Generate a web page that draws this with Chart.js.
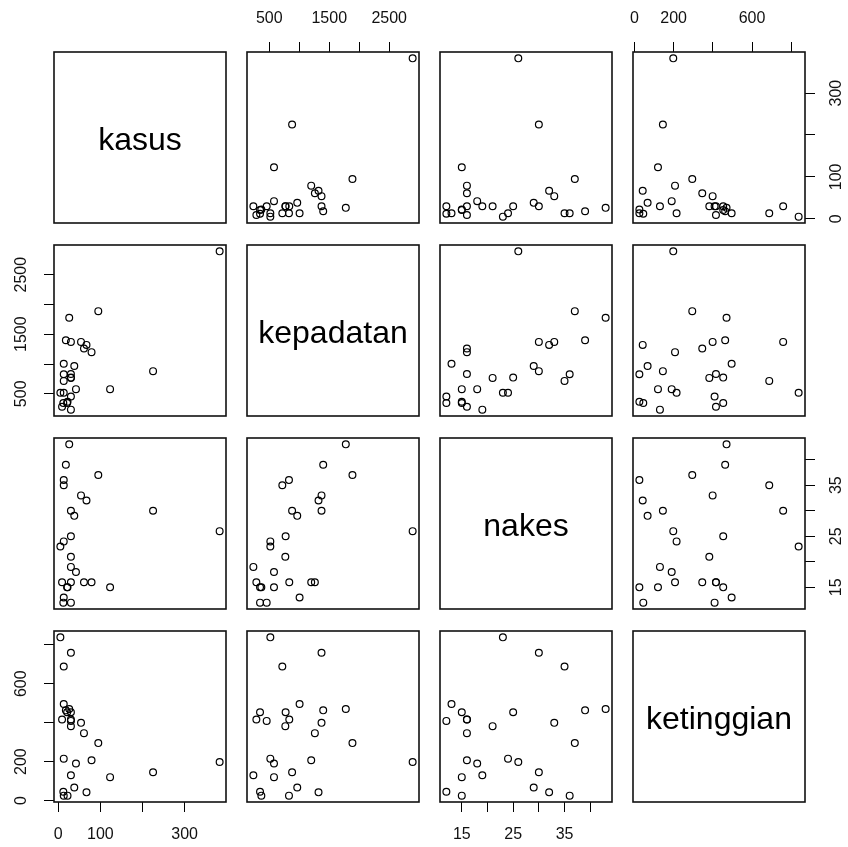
<!DOCTYPE html>
<html><head><meta charset="utf-8">
<script src="https://cdn.jsdelivr.net/npm/chart.js@4/dist/chart.umd.min.js"></script>
<style>
html,body{margin:0;padding:0;background:#fff;overflow:hidden;}
#wrap{position:relative;width:848px;height:847px;background:#fff;overflow:hidden;}
canvas{position:absolute;}
</style></head><body><div id="wrap"></div>
<script>
// ---- data (one entry per region) ----
const varNames   = ['kasus', 'kepadatan', 'nakes', 'ketinggian'];
const kasus      = [5, 30, 13, 13, 21, 30, 18, 26, 9, 30, 30, 54, 30, 61, 95, 13, 79, 383, 42, 225, 30, 123, 38, 12, 67, 22, 13];
const kepadatan  = [517, 1371, 717, 1005, 345, 772, 1399, 1776, 284, 833, 456, 1371, 767, 1260, 1887, 517, 1199, 2891, 578, 880, 234, 578, 966, 345, 1321, 367, 828];
const nakes      = [23, 30, 35, 13, 15, 25, 39, 43, 16, 16, 12, 33, 21, 16, 37, 24, 16, 26, 18, 30, 19, 15, 29, 12, 32, 15, 36];
const ketinggian = [838, 759, 688, 496, 453, 453, 463, 470, 416, 416, 409, 399, 382, 346, 295, 215, 207, 198, 190, 145, 130, 120, 67, 45, 42, 25, 25];

// ---- tick values and tick labels ----
const kasusTicks           = [0, 100, 200, 300];
const kasusTickLabels      = ['0', '100', '', '300'];
const kepadatanTicks       = [500, 1000, 1500, 2000, 2500];
const kepadatanTickLabels  = ['500', '', '1500', '', '2500'];
const nakesTicks           = [15, 20, 25, 30, 35, 40];
const nakesTickLabels      = ['15', '', '25', '', '35', ''];
const ketinggianTicks      = [0, 200, 400, 600, 800];
const ketinggianTickLabels = ['0', '200', '', '600', ''];

const VARS = [
  {name: varNames[0], data: kasus,      ticks: kasusTicks,      labels: kasusTickLabels},
  {name: varNames[1], data: kepadatan,  ticks: kepadatanTicks,  labels: kepadatanTickLabels},
  {name: varNames[2], data: nakes,      ticks: nakesTicks,      labels: nakesTickLabels},
  {name: varNames[3], data: ketinggian, ticks: ketinggianTicks, labels: ketinggianTickLabels}
];

// ---- layout ----
const FONT = '"Liberation Sans", Arial, sans-serif';
const colLeft = [54, 247, 440, 633];
const rowTop  = [52, 245, 438, 631];
const PW = 172, PH = 171, M = 48;
const TICKLEN = 10;

const mctx = document.createElement('canvas').getContext('2d');
mctx.font = '16px ' + FONT;
function widest(labels) { return Math.max(...labels.map(l => mctx.measureText(l).width)); }
function ext(a) { const mn = Math.min(...a), mx = Math.max(...a), d = mx - mn; return [mn - 0.04 * d, mx + 0.04 * d]; }

function axisOpts(v, axis, pos) {
  const [mn, mx] = ext(v.data);
  const o = {
    type: 'linear', min: mn, max: mx, bounds: 'data',
    display: !!pos,
    position: pos || (axis === 'x' ? 'bottom' : 'left'),
    afterBuildTicks: s => { s.ticks = v.ticks.map(t => ({value: t})); },
    grid: {display: true, drawOnChartArea: false, drawTicks: true, tickLength: TICKLEN,
           color: '#000', tickColor: '#000', lineWidth: 1},
    border: {display: false},
    ticks: {
      autoSkip: false, color: '#111', font: {family: FONT, size: 16},
      callback: (val, i) => { const k = v.ticks.indexOf(val); return k >= 0 ? v.labels[k] : ''; }
    }
  };
  if (pos) {
    if (axis === 'x') {
      o.ticks.maxRotation = 0; o.ticks.minRotation = 0; o.ticks.padding = 13.4;
      o.afterFit = s => { s.height = M; };
    } else {
      o.ticks.minRotation = 90; o.ticks.maxRotation = 90; o.ticks.crossAlign = 'center';
      o.ticks.padding = 22 - widest(v.labels) / 2;
      o.afterFit = s => { s.width = M; };
    }
  }
  return o;
}

const framePlugin = {
  id: 'frame',
  afterDraw(chart, args, opts) {
    const {ctx, chartArea: a} = chart;
    ctx.save();
    ctx.strokeStyle = '#111';
    ctx.lineWidth = 1.6;
    ctx.strokeRect(a.left, a.top, a.right - a.left, a.bottom - a.top);
    if (opts.label) {
      ctx.fillStyle = '#000';
      ctx.font = '32px ' + FONT;
      ctx.textAlign = 'center';
      ctx.textBaseline = 'alphabetic';
      ctx.fillText(opts.label, (a.left + a.right) / 2, (a.top + a.bottom) / 2 + 12.5);
    }
    ctx.restore();
  }
};

const wrap = document.getElementById('wrap');
for (let r = 0; r < 4; r++) {
  for (let c = 0; c < 4; c++) {
    const cv = document.createElement('canvas');
    cv.width = PW + 2 * M; cv.height = PH + 2 * M;
    cv.style.left = (colLeft[c] - M) + 'px';
    cv.style.top = (rowTop[r] - M) + 'px';
    cv.style.width = cv.width + 'px'; cv.style.height = cv.height + 'px';
    wrap.appendChild(cv);

    const diag = r === c;
    let xPos = null, yPos = null;
    if (!diag) {
      if (r === 0 && (c === 1 || c === 3)) xPos = 'top';
      if (r === 3 && (c === 0 || c === 2)) xPos = 'bottom';
      if (c === 3 && (r === 0 || r === 2)) yPos = 'right';
      if (c === 0 && (r === 1 || r === 3)) yPos = 'left';
    }
    const vx = VARS[c], vy = VARS[r];
    const pts = diag ? [] : vx.data.map((x, i) => ({x: x, y: vy.data[i]}));

    new Chart(cv, {
      type: 'scatter',
      data: {datasets: [{
        data: pts,
        pointStyle: 'circle', pointRadius: 3.4, pointHoverRadius: 3.4,
        borderColor: '#000', pointBorderWidth: 1.2, backgroundColor: 'rgba(0,0,0,0)',
        showLine: false, clip: false
      }]},
      options: {
        responsive: false, animation: false, devicePixelRatio: 1, events: [],
        layout: {padding: {
          left: yPos === 'left' ? 0 : M, right: yPos === 'right' ? 0 : M,
          top: xPos === 'top' ? 0 : M, bottom: xPos === 'bottom' ? 0 : M}},
        scales: {x: axisOpts(vx, 'x', xPos), y: axisOpts(vy, 'y', yPos)},
        plugins: {legend: {display: false}, tooltip: {enabled: false},
                  frame: {label: diag ? vx.name : null}}
      },
      plugins: [framePlugin]
    });
  }
}
</script>
</body></html>
